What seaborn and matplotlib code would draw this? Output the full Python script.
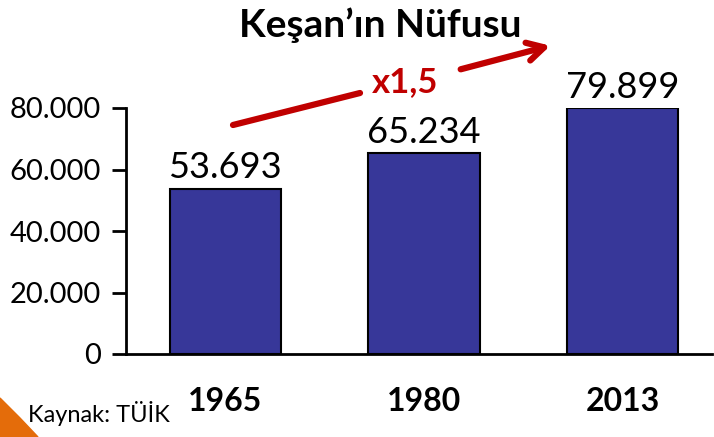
import matplotlib
matplotlib.use("Agg")
import matplotlib.pyplot as plt
import seaborn as sns
import pandas as pd
from matplotlib.ticker import FuncFormatter
from matplotlib.patches import Polygon

years = ["1965", "1980", "2013"]
population = [53693, 65234, 79899]
yticks = [0, 20000, 40000, 60000, 80000]
title = "Keşan’ın Nüfusu"
growth_label = "x1,5"
source = "Kaynak: TÜİK"

sns.set_theme(style="white")
plt.rcParams["font.family"] = ["Lato", "DejaVu Sans"]
plt.rcParams["text.color"] = "black"

W, H = 714, 437
fig = plt.figure(figsize=(W / 100, H / 100), dpi=100)
ax = fig.add_axes([126 / W, (H - 354) / H, (712 - 126) / W, (354 - 108) / H])

df = pd.DataFrame({"year": years, "pop": population})
sns.barplot(data=df, x="year", y="pop", ax=ax, color="#373799", saturation=1,
            edgecolor="black", linewidth=1.5, width=0.56)

ax.set_xlim(-0.5, 2.45)
ax.set_ylim(0, 80000)
ax.set_yticks(yticks)
ax.yaxis.set_major_formatter(FuncFormatter(lambda v, p: f"{int(v):,}".replace(",", ".")))
ax.set_xlabel("")
ax.set_ylabel("")
ax.tick_params(axis="y", which="both", left=True, length=10, width=2, labelsize=21, pad=8,
               colors="black")
ax.tick_params(axis="x", bottom=False, labelsize=23, pad=18, colors="black")
for lab in ax.get_xticklabels():
    lab.set_fontweight("bold")
for s in ["top", "right"]:
    ax.spines[s].set_visible(False)
for s in ["left", "bottom"]:
    ax.spines[s].set_linewidth(2)
    ax.spines[s].set_color("black")

for i, v in enumerate(population):
    ax.text(i, v + 1500, f"{v:,}".replace(",", "."), ha="center", va="bottom",
            fontsize=26, color="black", clip_on=False)

fig.text(380 / W, 1 - 25 / H, title, ha="center", va="center", fontsize=28,
         fontweight="bold", color="black")
fig.text(405 / W, 1 - 82 / H, growth_label, ha="center", va="center", fontsize=25,
         fontweight="bold", color="#C00000")
fig.text(28 / W, 1 - 414 / H, source, ha="left", va="center", fontsize=17, color="black")

red = "#C00000"
fig.add_artist(plt.Line2D([233 / W, 360 / W], [1 - 125 / H, 1 - 93 / H], color=red, lw=4.5,
                          transform=fig.transFigure))
ax.annotate("", xy=(553, H - 45), xytext=(458, H - 70), xycoords="figure pixels",
            textcoords="figure pixels",
            arrowprops=dict(arrowstyle="->,head_length=1.0,head_width=0.55", color=red, lw=4.5))

fig.add_artist(Polygon([[0, 1 - 398 / H], [20 / W, 1 - 418 / H], [38 / W, 0], [0, 0]],
                       closed=True, transform=fig.transFigure, color="#E46C0A"))

fig.savefig("out.png", dpi=100)
